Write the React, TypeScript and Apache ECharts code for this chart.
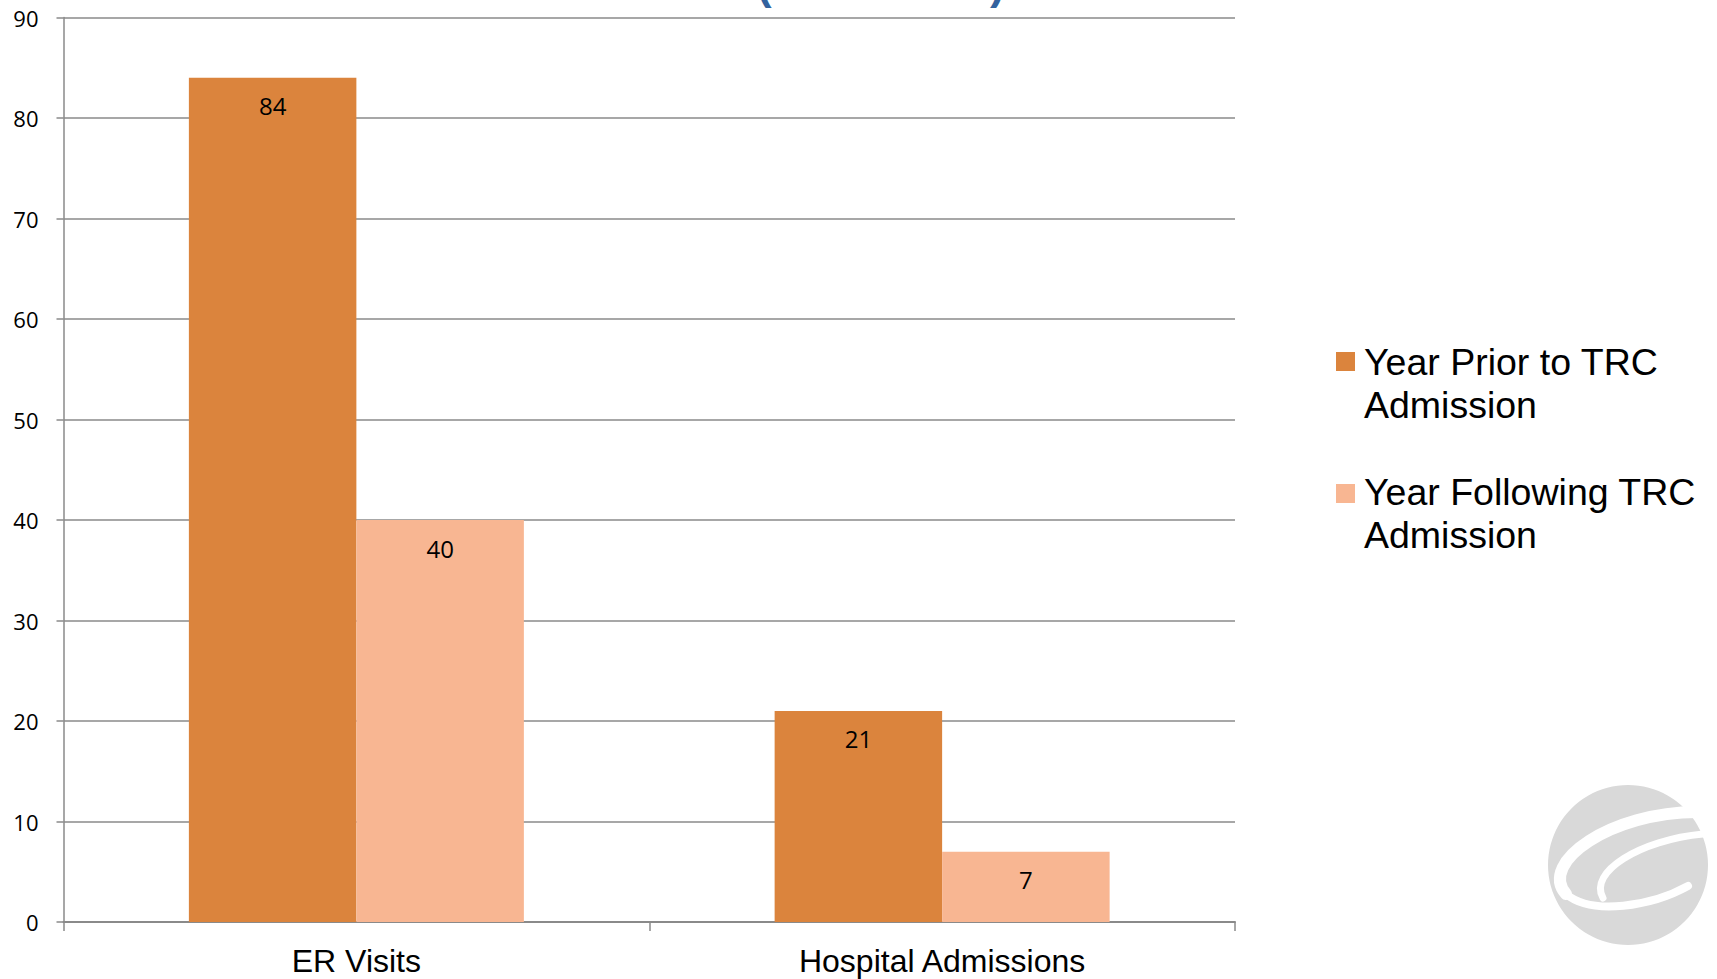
import React, { useEffect, useRef } from "react";
import * as echarts from "echarts";

const categories = ["ER Visits", "Hospital Admissions"];
const seriesNames = ["Year Prior to TRC Admission", "Year Following TRC Admission"];
const legendLines = ["Year Prior to TRC\nAdmission", "Year Following TRC\nAdmission"];
const priorValues = [84, 21];
const followingValues = [40, 7];
const seriesColors = ["#DB843D", "#F8B692"];
const yMin = 0;
const yMax = 90;
const yInterval = 10;

const ARIAL = "'Liberation Sans', Arial, sans-serif";
const NUMFONT = "'Open Sans', sans-serif";

export default function App() {
  const ref = useRef<HTMLDivElement>(null);

  useEffect(() => {
    document.body.style.margin = "0";
    if (!ref.current) return;
    const chart = echarts.init(ref.current, undefined, { renderer: "svg" });
    const gray = "#8A8A8A";
    const labelCfg = {
      show: true,
      position: "insideTop",
      distance: 16,
      color: "#000",
      fontSize: 24,
      fontFamily: NUMFONT,
    };
    const option: any = {
      animation: false,
      backgroundColor: "#fff",
      grid: { left: 63.5, right: 482, top: 17.5, bottom: 57, containLabel: false },
      xAxis: {
        type: "category",
        data: categories,
        axisLine: { show: true, lineStyle: { color: gray, width: 2 } },
        axisTick: { show: true, length: 9, lineStyle: { color: gray, width: 1.5 } },
        axisLabel: {
          color: "#000",
          fontSize: 32,
          fontFamily: ARIAL,
          margin: 23,
        },
        splitLine: { show: false },
      },
      yAxis: {
        type: "value",
        min: yMin,
        max: yMax,
        interval: yInterval,
        axisLine: { show: true, lineStyle: { color: gray, width: 1.5 } },
        axisTick: { show: true, length: 7, lineStyle: { color: gray, width: 1.5 } },
        axisLabel: {
          color: "#000",
          fontSize: 22,
          fontFamily: NUMFONT,
          margin: 25,
        },
        splitLine: { show: true, lineStyle: { color: gray, width: 1.5 } },
      },
      series: [
        {
          name: seriesNames[0],
          type: "bar",
          data: priorValues,
          barWidth: 167.5,
          barGap: "0%",
          itemStyle: { color: seriesColors[0] },
          label: labelCfg,
        },
        {
          name: seriesNames[1],
          type: "bar",
          data: followingValues,
          barWidth: 167.5,
          barGap: "0%",
          itemStyle: { color: seriesColors[1] },
          label: labelCfg,
        },
      ],
      graphic: [
        // cut-off title parentheses (title lies above the visible area)
        {
          type: "text",
          x: 757,
          y: -17,
          style: {
            text: "(",
            fontSize: 44,
            fontWeight: "bold",
            fontFamily: ARIAL,
            fill: "#33629E",
            verticalAlign: "middle",
          },
        },
        {
          type: "text",
          x: 990,
          y: -17,
          style: {
            text: ")",
            fontSize: 44,
            fontWeight: "bold",
            fontFamily: ARIAL,
            fill: "#33629E",
            verticalAlign: "middle",
          },
        },
        // legend
        {
          type: "rect",
          shape: { x: 1336, y: 352, width: 19, height: 19 },
          style: { fill: seriesColors[0] },
        },
        {
          type: "text",
          x: 1364,
          y: 340,
          style: {
            text: legendLines[0],
            fontSize: 37.5,
            lineHeight: 43,
            fontFamily: ARIAL,
            fill: "#000",
            verticalAlign: "top",
          },
        },
        {
          type: "rect",
          shape: { x: 1336, y: 484, width: 19, height: 19 },
          style: { fill: seriesColors[1] },
        },
        {
          type: "text",
          x: 1364,
          y: 470,
          style: {
            text: legendLines[1],
            fontSize: 37.5,
            lineHeight: 43,
            fontFamily: ARIAL,
            fill: "#000",
            verticalAlign: "top",
          },
        },
        // logo
        {
          type: "circle",
          shape: { cx: 1628, cy: 865, r: 80 },
          style: { fill: "#D9D9D9" },
        },
        {
          type: "bezierCurve",
          shape: { x1: 1697, y1: 812, cpx1: 1612, cpy1: 812, cpx2: 1538, cpy2: 862, x2: 1566, y2: 894 },
          style: { stroke: "#fff", lineWidth: 12, fill: "none", lineCap: "round" },
        },
        {
          type: "bezierCurve",
          shape: { x1: 1566, y1: 894, cpx1: 1592, cpy1: 916, cpx2: 1652, cpy2: 906, x2: 1688, y2: 886 },
          style: { stroke: "#fff", lineWidth: 8, fill: "none", lineCap: "round" },
        },
        {
          type: "bezierCurve",
          shape: { x1: 1703, y1: 834, cpx1: 1640, cpy1: 840, cpx2: 1588, cpy2: 872, x2: 1603, y2: 898 },
          style: { stroke: "#fff", lineWidth: 7, fill: "none", lineCap: "round" },
        },
      ],
    };
    chart.setOption(option);
    return () => chart.dispose();
  }, []);

  return <div ref={ref} style={{ width: 1717, height: 979 }} />;
}
